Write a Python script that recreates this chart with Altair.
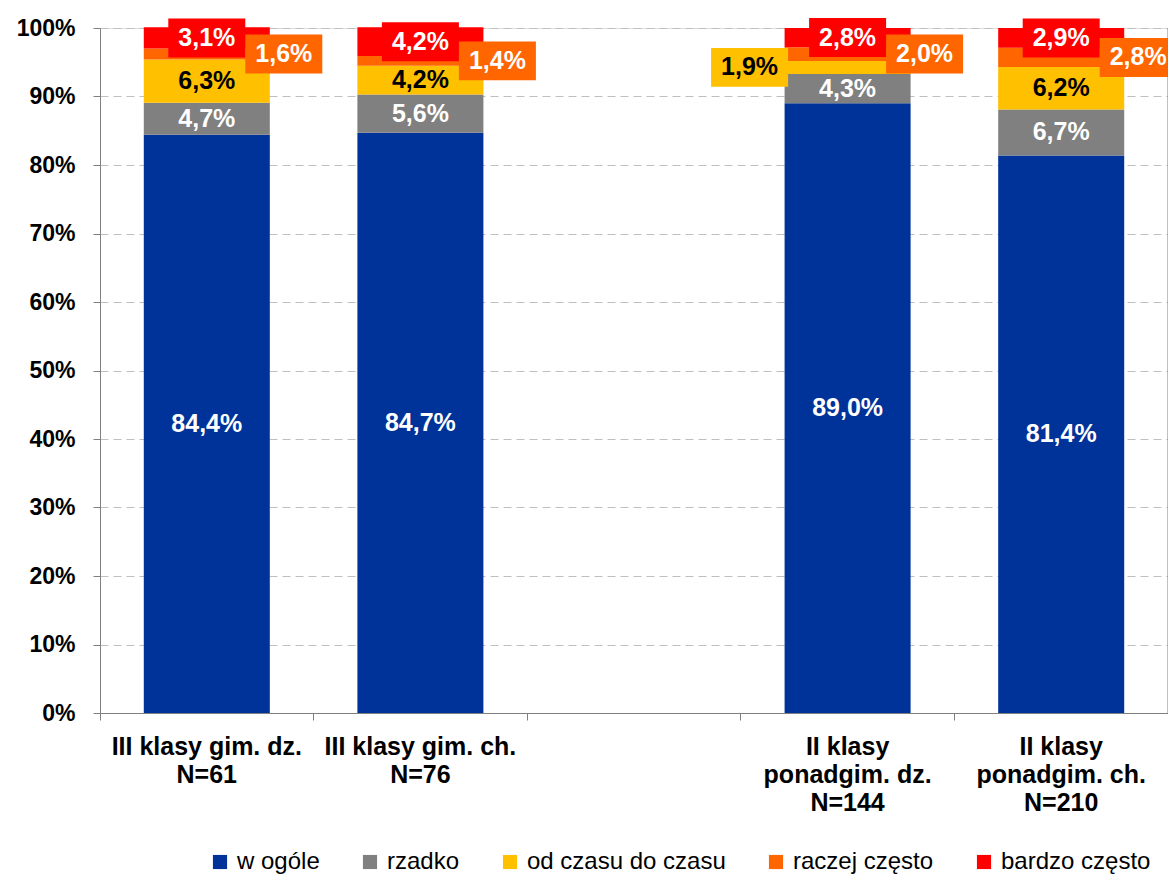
import altair as alt
import pandas as pd

# ---- data ----
categories = ["III klasy gim. dz.|N=61", "III klasy gim. ch.|N=76", " ",
              "II klasy|ponadgim. dz.|N=144", "II klasy|ponadgim. ch.|N=210"]
bar_categories = [categories[0], categories[1], categories[3], categories[4]]
series = ["w ogóle", "rzadko", "od czasu do czasu", "raczej często", "bardzo często"]
colors = ["#003399", "#808080", "#FFC000", "#FF6600", "#FF0000"]
w_ogole = [84.4, 84.7, 89.0, 81.4]
rzadko = [4.7, 5.6, 4.3, 6.7]
od_czasu = [6.3, 4.2, 1.9, 6.2]
raczej = [1.6, 1.4, 2.0, 2.8]
bardzo = [3.1, 4.2, 2.8, 2.9]
y_ticks = list(range(0, 101, 10))

values_by_series = [w_ogole, rzadko, od_czasu, raczej, bardzo]
rows = []
for i, cat in enumerate(bar_categories):
    base = 0.0
    for j, s in enumerate(series):
        v = values_by_series[j][i]
        if s == "bardzo często":
            place = "top"
        elif s == "raczej często":
            place = "right"
        elif s == "od czasu do czasu" and v < 3:
            place = "left"
        else:
            place = "inside"
        rows.append(dict(cat=cat, series=s, order=j, value=v, y0=base, y1=base + v,
                         mid=base + v / 2,
                         label=f"{v:.1f}".replace(".", ",") + "%",
                         tcolor="#000000" if s == "od czasu do czasu" else "#FFFFFF",
                         place=place))
        base += v
df = pd.DataFrame(rows)

W, H = 1068, 685
FONT = "Liberation Sans"
BOX = "M-1,-0.506L1,-0.506L1,0.506L-1,0.506Z"
BOX_SIZE = 77 * 77

xscale = alt.Scale(domain=categories, paddingInner=0, paddingOuter=0)
xaxis = alt.Axis(title=None, labelExpr="split(datum.label, '|')", labelAngle=0,
                 bandPosition=1, tickExtra=True, tickSize=7, tickColor="#808080",
                 domainColor="#808080", labelFont=FONT, labelFontSize=25,
                 labelFontWeight="bold", labelColor="#000000", labelLineHeight=28,
                 labelPadding=14, labelLimit=400, labelOverlap=False, grid=False,
                 labelBaseline="top")
yscale = alt.Scale(domain=[0, 100], nice=False)
yaxis = alt.Axis(values=y_ticks, labelExpr="datum.value + '%'", title=None, grid=True,
                 gridColor="#BFBFBF", gridDash=[8, 5], gridWidth=1,
                 domainColor="#808080", tickColor="#808080", tickSize=7,
                 labelFont=FONT, labelFontSize=23, labelFontWeight="bold",
                 labelColor="#000000", labelPadding=18)
cscale = alt.Scale(domain=series, range=colors)

x = alt.X("cat:N", scale=xscale, axis=xaxis)


def y(field):
    return alt.Y(field, scale=yscale, axis=yaxis)


base = alt.Chart(df)

bars = base.mark_bar(width=alt.RelativeBandSize(0.59)).encode(
    x=x, y=y("y0:Q"), y2="y1:Q",
    color=alt.Color("series:N", scale=cscale,
                    legend=alt.Legend(title=None, orient="none", legendX=108, legendY=822,
                                      direction="horizontal", symbolType="square",
                                      symbolSize=200, symbolStrokeWidth=0,
                                      labelFont=FONT, labelFontSize=24,
                                      labelColor="#000000", labelOffset=5,
                                      columnPadding=38, labelLimit=400)),
)

offsets = {"top": 0, "right": 77, "left": -98}
layers = [bars]
for place, off in offsets.items():
    sub = base.transform_filter(f"datum.place == '{place}'")
    layers.append(sub.mark_point(shape=BOX, size=BOX_SIZE, filled=True, opacity=1,
                                 strokeWidth=0, xOffset=off).encode(
        x=x, y=y("mid:Q"),
        color=alt.Color("series:N", scale=cscale, legend=None)))
    layers.append(sub.mark_text(font=FONT, fontSize=25, fontWeight="bold",
                                align="center", baseline="middle", xOffset=off).encode(
        x=x, y=y("mid:Q"), text="label:N",
        fill=alt.Fill("tcolor:N", scale=None, legend=None)))

inside = base.transform_filter("datum.place == 'inside'").mark_text(
    font=FONT, fontSize=25, fontWeight="bold", align="center", baseline="middle").encode(
    x=x, y=y("mid:Q"), text="label:N",
    fill=alt.Fill("tcolor:N", scale=None, legend=None))
layers.append(inside)

border = alt.Chart(pd.DataFrame({"a": [0]})).mark_rule(color="#808080").encode(
    x=alt.value(W), y=alt.value(0), y2=alt.value(H))
layers.append(border)

chart = alt.layer(*layers).properties(
    width=W, height=H,
    autosize=alt.AutoSizeParams(type="none"),
    padding={"left": 92, "top": 20, "right": 0, "bottom": 164},
).configure_view(stroke=None).configure(background="white")

chart.save("out.html", embed_options={"renderer": "svg", "actions": False})
